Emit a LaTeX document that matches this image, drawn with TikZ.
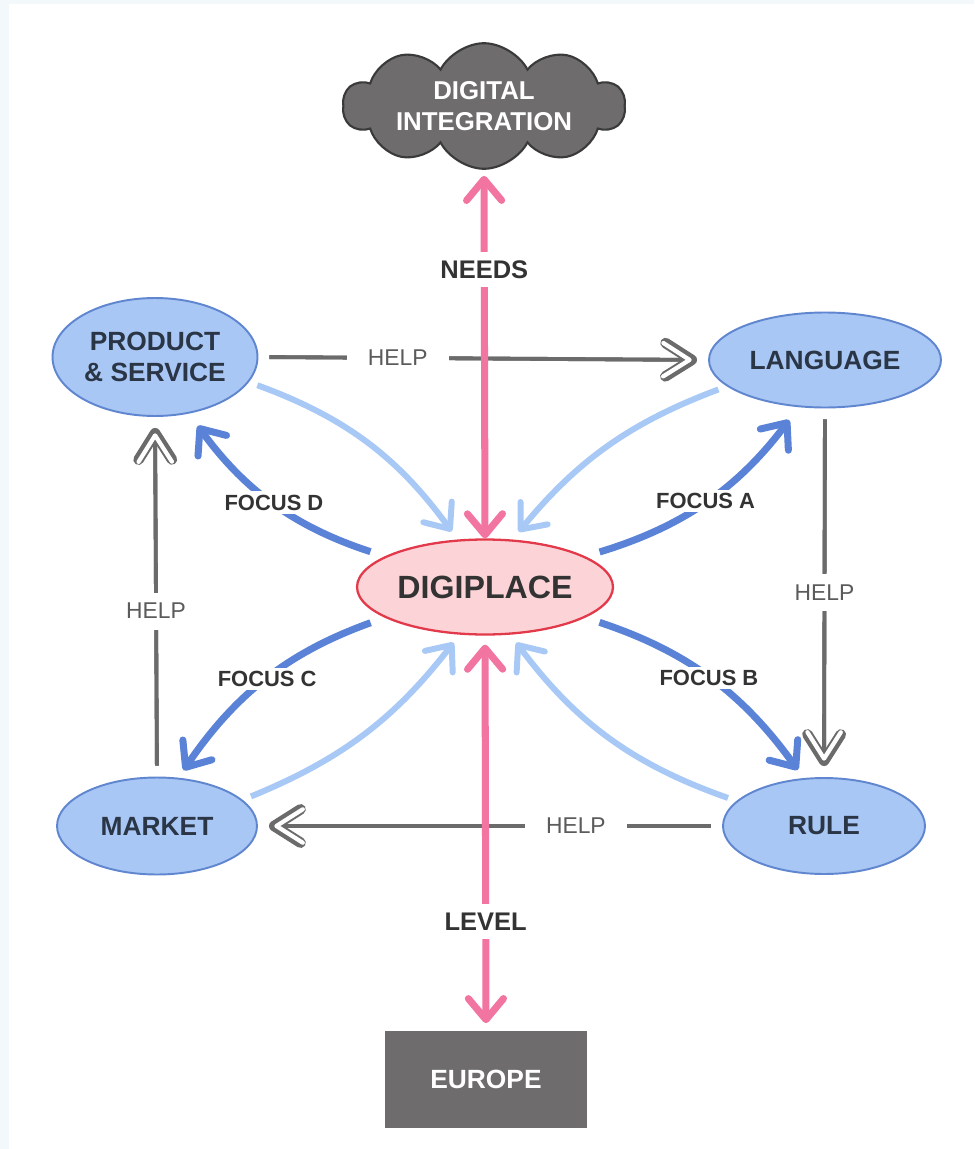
\documentclass[tikz,border=0pt]{standalone}
\usepackage{fontspec}
\setmainfont{Liberation Sans}
\usepackage{tikz}
\usetikzlibrary{arrows.meta,shapes.geometric,shapes.symbols}

\definecolor{bubble}{HTML}{A9C7F5}
\definecolor{bubbleline}{HTML}{5F86CF}
\definecolor{bubbletext}{HTML}{2A3546}
\definecolor{focusblue}{HTML}{5A82D6}
\definecolor{inblue}{HTML}{A8C8F5}
\definecolor{hotpink}{HTML}{F274A0}
\definecolor{coreline}{HTML}{E23A4A}
\definecolor{corefill}{HTML}{FCD4D8}
\definecolor{helpgray}{HTML}{6B6B6B}
\definecolor{darkbox}{HTML}{6E6C6C}
\definecolor{cloudline}{HTML}{3A3A3A}
\definecolor{labeltext}{HTML}{333333}
\definecolor{frametint}{HTML}{F3F9FA}

\newcommand{\fsz}[2]{\fontsize{#1}{#2}\selectfont}

\begin{document}
\begin{tikzpicture}[x=0.02cm, y=-0.02cm,
    barb/.tip={Straight Barb[round,length=12pt,width=20pt]},
    topic/.style={ellipse, draw=bubbleline, line width=1.1pt, fill=bubble, inner sep=0pt,
      text=bubbletext, font=\bfseries\fsz{15}{17.6}, align=center},
    lbl/.style={fill=white, text=labeltext, font=\bfseries\fsz{12.5}{14}, inner sep=2pt},
    helplbl/.style={fill=white, text=helpgray!85!black, font=\fsz{13}{15}, inner xsep=12pt, inner ysep=6pt},
    pinklbl/.style={fill=white, text=labeltext, font=\bfseries\fsz{14.5}{16}, inner xsep=3pt, inner ysep=5pt},
    needs/.style={draw=hotpink, line width=4pt, {barb}-{barb}},
    focus/.style={draw=focusblue, line width=4pt, -{barb}, shorten <=0.3cm},
    inflow/.style={draw=inblue, line width=3.4pt, -{barb}, shorten <=0.18cm, shorten >=0.2cm},
    help/.style={draw=helpgray, line width=2.2pt, shorten <=0.22cm, shorten >=0.22cm,
      -{Straight Barb[round,length=15pt,width=19pt,line width=6pt]},
      postaction={draw=helpgray, shorten >=9.3pt,
        -{Straight Barb[round,length=15pt,width=19pt,line width=2.4pt,color=white]}}}]
  \fill[frametint] (0,0) rectangle (974,1149);
  \fill[white] (9,4) rectangle (974,1149);
  \useasboundingbox (0,0) rectangle (974,1149);

  % the nodes
  \node[topic, minimum width=4.1cm, minimum height=2.36cm] (ps) at (155,357) {PRODUCT\\\& SERVICE};
  \node[topic, minimum width=4.64cm, minimum height=1.9cm] (lang) at (825,360) {LANGUAGE};
  \node[topic, minimum width=4cm, minimum height=1.94cm] (mk) at (157,826) {MARKET};
  \node[topic, minimum width=4.04cm, minimum height=1.92cm] (rule) at (824,826) {RULE};
  \node[ellipse, draw=coreline, line width=1.3pt, fill=corefill, inner sep=0pt,
    minimum width=5.12cm, minimum height=1.9cm, text=labeltext,
    font=\bfseries\fsz{18.3}{20}] (dp) at (485,587) {DIGIPLACE};
  \node[cloud, cloud puffs=10, cloud puff arc=125, aspect=3, draw=cloudline, line width=1.2pt,
    fill=darkbox, text=white, font=\bfseries\fsz{14.7}{17.6}, align=center, inner sep=0pt,
    minimum width=5.64cm, minimum height=2.3cm] (cloud) at (484,106) {DIGITAL\\INTEGRATION};
  \node[rectangle, fill=darkbox, text=white, font=\bfseries\fsz{15}{17},
    minimum width=4.04cm, minimum height=1.94cm] (eu) at (486,1079) {EUROPE};

  % help ring
  \draw[help] (ps.east) -- node[helplbl, pos=.31]{HELP} (lang.west);
  \draw[help] (lang.south) -- node[helplbl]{HELP} (rule.north);
  \draw[help] (rule.west) -- node[helplbl, pos=.315]{HELP} (mk.east);
  \draw[help] (mk.north) -- node[helplbl, pos=.46]{HELP} (ps.south);

  % flows into the centre
  \draw[inflow] (ps.-15) to[bend left=17] (dp.120);
  \draw[inflow] (lang.195) to[bend right=15] (dp.60);
  \draw[inflow] (mk.17) to[bend right=15] (dp.242);
  \draw[inflow] (rule.164) to[bend left=17] (dp.298);

  % focus arrows
  \draw[focus, shorten >=0.32cm] (dp.17) to[bend right=18] node[lbl]{FOCUS A} (lang.241);
  \draw[focus, shorten >=0.2cm] (dp.-17) to[bend left=18] node[lbl]{FOCUS B} (rule.113);
  \draw[focus, shorten >=0.18cm] (dp.197) to[bend right=18] node[lbl]{FOCUS C} (mk.66);
  \draw[focus, shorten >=0.3cm] (dp.163) to[bend left=18] node[lbl]{FOCUS D} (ps.301);

  % vertical axis
  \draw[needs, shorten >=0.12cm] (dp.north) -- node[pinklbl, pos=.73]{NEEDS} (cloud.south);
  \draw[needs, shorten <=0.18cm, shorten >=0.14cm] (dp.south) -- node[pinklbl, pos=.725]{LEVEL} (eu.north);
\end{tikzpicture}
\end{document}
